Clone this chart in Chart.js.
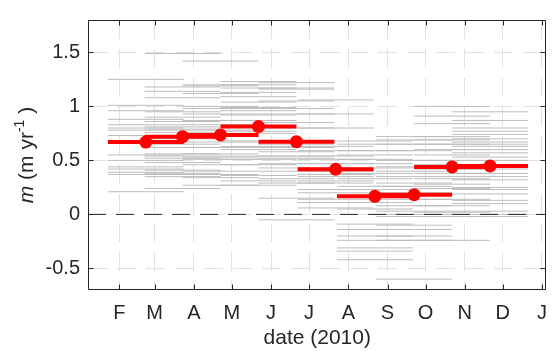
<!DOCTYPE html>
<html>
<head>
<meta charset="utf-8">
<script src="https://cdn.jsdelivr.net/npm/chart.js@4.4.0/dist/chart.umd.min.js"></script>
<style>
  html, body { margin: 0; padding: 0; background: #fff; }
</style>
</head>
<body>
<canvas id="chart" width="558" height="351"></canvas>
<script>
// x axis: day of year 2010, ticks on the first of each month
const monthDays = [31, 59, 90, 120, 151, 181, 212, 243, 273, 304, 334, 365];
const monthLabels = ["F", "M", "A", "M", "J", "J", "A", "S", "O", "N", "D", "J"];
const yTicks = [-0.5, 0, 0.5, 1, 1.5];

// 60 day windows, centre day of each one
const windowCentres = [52, 81, 111, 141, 171, 202, 233, 264, 294, 324];
const halfWidth = 30;

// mean rate for each window (red)
const meanRate = [0.67, 0.72, 0.736, 0.813, 0.673, 0.418, 0.167, 0.182, 0.44, 0.449];

// individual rates for each window (grey)
const rateW1 = [1.25, 1.01, 0.96, 0.88, 0.83, 0.80, 0.78, 0.73, 0.55, 0.50, 0.44, 0.42, 0.39, 0.37, 0.21];
const rateW2 = [1.49, 1.18, 1.14, 1.08, 0.90, 0.95, 0.86, 0.81, 0.79, 0.76, 0.70, 0.65, 0.62, 0.56, 0.54, 0.52, 0.48, 0.41, 0.38, 0.35, 0.24];
const rateW3 = [1.42, 1.20, 1.19, 1.12, 1.00, 0.98, 0.93, 0.87, 0.83, 0.78, 0.67, 0.62, 0.56, 0.53, 0.51, 0.46, 0.40, 0.37, 0.34, 0.27];
const rateW4 = [1.23, 1.20, 1.17, 1.13, 1.09, 1.04, 0.99, 0.96, 0.92, 0.87, 0.77, 0.75, 0.68, 0.63, 0.60, 0.54, 0.51, 0.46, 0.36, 0.31, 0.27];
const rateW5 = [1.22, 1.17, 1.16, 1.05, 0.98, 0.93, 0.85, 0.80, 0.65, 0.62, 0.58, 0.54, 0.52, 0.47, 0.43, 0.40, 0.33, 0.29, 0.15, -0.05];
const rateW6 = [1.06, 0.93, 0.80, 0.63, 0.59, 0.54, 0.51, 0.47, 0.40, 0.37, 0.35, 0.31, 0.29, 0.23, 0.20, 0.14, 0.11, 0.06];
const rateW7 = [0.68, 0.65, 0.59, 0.55, 0.51, 0.47, 0.43, 0.38, 0.33, 0.26, 0.23, 0.11, 0.05, -0.09, -0.14, -0.20, -0.24, -0.31, -0.34, -0.42];
const rateW8 = [0.72, 0.69, 0.65, 0.59, 0.50, 0.44, 0.40, 0.35, 0.29, 0.26, 0.20, 0.14, 0.08, 0.03, 0.00, -0.02, -0.10, -0.14, -0.20, -0.24, -0.60];
const rateW9 = [1.00, 0.91, 0.84, 0.72, 0.69, 0.65, 0.60, 0.55, 0.50, 0.46, 0.42, 0.38, 0.33, 0.28, 0.24, 0.14, 0.08, 0.02, -0.02, -0.24];
const rateW10 = [0.95, 0.87, 0.80, 0.77, 0.74, 0.70, 0.67, 0.65, 0.63, 0.60, 0.57, 0.53, 0.50, 0.42, 0.38, 0.35, 0.32, 0.25, 0.23, 0.19, 0.13, 0.10, 0.03, 0.00, -0.02];

const greyRates = [rateW1, rateW2, rateW3, rateW4, rateW5, rateW6, rateW7, rateW8, rateW9, rateW10];

const FONT = "'Liberation Sans', Arial, Helvetica, sans-serif";
const INK = "#262626";

// horizontal segments, broken with nulls
function segments(centres, valuesPerWindow) {
  const pts = [];
  centres.forEach((c, i) => {
    valuesPerWindow[i].forEach(v => {
      pts.push({x: c - halfWidth, y: v}, {x: c + halfWidth, y: v}, {x: c + halfWidth, y: null});
    });
  });
  return pts;
}

const greyPts = segments(windowCentres, greyRates);
const redPts = segments(windowCentres, meanRate.map(v => [v]));
const dotPts = windowCentres.map((c, i) => ({x: c, y: meanRate[i]}));

const xMin = 6.3, xMax = 368.6;

// box, inward ticks and the y label
const axesFrame = {
  id: "axesFrame",
  afterDraw(chart) {
    const {ctx, chartArea: a, scales: {x, y}} = chart;
    const L = Math.round(a.left) + 0.5, R = Math.round(a.right) - 0.5;
    const T = Math.round(a.top) + 0.5, B = Math.round(a.bottom) - 0.5;
    ctx.save();
    ctx.strokeStyle = INK;
    ctx.lineWidth = 1;
    ctx.beginPath();
    ctx.rect(L, T, R - L, B - T);
    monthDays.forEach(d => {
      const px = Math.round(x.getPixelForValue(d)) + 0.5;
      ctx.moveTo(px, B); ctx.lineTo(px, B - 5);
      ctx.moveTo(px, T); ctx.lineTo(px, T + 5);
    });
    yTicks.forEach(v => {
      const py = Math.round(y.getPixelForValue(v)) + 0.5;
      ctx.moveTo(L, py); ctx.lineTo(L + 5, py);
      ctx.moveTo(R, py); ctx.lineTo(R - 5, py);
    });
    ctx.stroke();

    // y title: m (m yr^-1 )
    const cy = (a.top + a.bottom) / 2;
    ctx.translate(33, cy);
    ctx.rotate(-Math.PI / 2);
    ctx.fillStyle = INK;
    ctx.textBaseline = "alphabetic";
    const parts = [
      {t: "m", f: "italic 21px " + FONT, dy: 0},
      {t: " (m yr", f: "21px " + FONT, dy: 0},
      {t: "-1", f: "14px " + FONT, dy: -9},
      {t: " )", f: "21px " + FONT, dy: 0}
    ];
    let w = 0;
    parts.forEach(p => { ctx.font = p.f; p.w = ctx.measureText(p.t).width; w += p.w; });
    let cx = -w / 2;
    parts.forEach(p => {
      ctx.font = p.f;
      ctx.fillText(p.t, cx, p.dy);
      cx += p.w;
    });
    ctx.restore();
  }
};

new Chart(document.getElementById("chart"), {
  type: "line",
  data: {
    datasets: [
      {
        data: greyPts,
        order: 4,
        borderColor: "#bdbdbd",
        borderWidth: 1,
        pointRadius: 0,
        spanGaps: false
      },
      {
        data: [{x: xMin, y: 0}, {x: xMax, y: 0}],
        order: 3,
        borderColor: INK,
        borderWidth: 1,
        borderDash: [18, 10],
        pointRadius: 0
      },
      {
        data: redPts,
        order: 2,
        borderColor: "#ff0000",
        borderWidth: 4,
        pointRadius: 0,
        spanGaps: false
      },
      {
        data: dotPts,
        order: 1,
        showLine: false,
        pointRadius: 6.5,
        pointBackgroundColor: "#ff0000",
        pointBorderColor: "#ff0000",
        pointBorderWidth: 0
      }
    ]
  },
  options: {
    responsive: false,
    animation: false,
    devicePixelRatio: 1,
    layout: { padding: { top: 12.5, right: 1, left: 0, bottom: 0 } },
    plugins: { legend: { display: false }, tooltip: { enabled: false } },
    scales: {
      x: {
        type: "linear",
        min: xMin,
        max: xMax,
        afterBuildTicks: s => { s.ticks = monthDays.map(v => ({value: v})); },
        afterFit: s => { s.height = 61; },
        ticks: {
          autoSkip: false,
          maxRotation: 0,
          padding: 11,
          color: INK,
          font: { family: FONT, size: 20 },
          callback: (v, i) => monthLabels[i]
        },
        grid: { color: "#e2e2e2", drawTicks: false },
        border: { display: false, dash: [19, 10] },
        title: {
          display: true,
          text: "date (2010)",
          color: INK,
          font: { family: FONT, size: 21 },
          padding: { top: 0, bottom: 0 }
        }
      },
      y: {
        min: -0.7,
        max: 1.8,
        afterBuildTicks: s => { s.ticks = yTicks.map(v => ({value: v})); },
        afterFit: s => { s.width = 88; },
        ticks: {
          padding: 8,
          color: INK,
          font: { family: FONT, size: 20 },
          callback: v => String(v)
        },
        grid: { color: "#e2e2e2", drawTicks: false },
        border: { display: false, dash: [19, 10] }
      }
    }
  },
  plugins: [axesFrame]
});
</script>
</body>
</html>
